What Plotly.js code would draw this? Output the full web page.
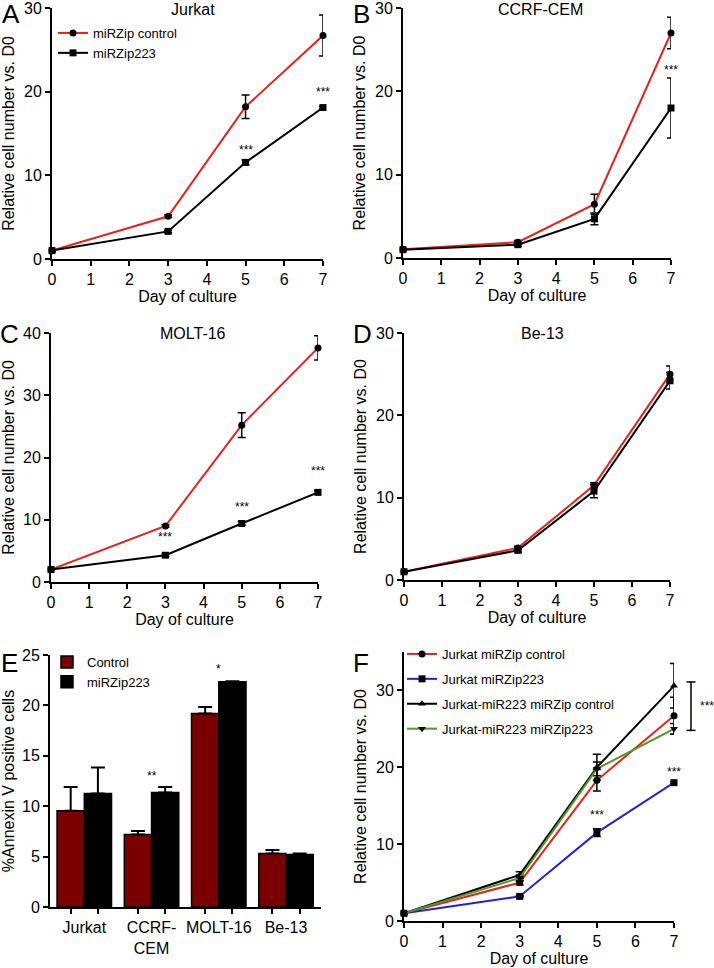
<!DOCTYPE html>
<html><head><meta charset="utf-8">
<script src="https://cdn.plot.ly/plotly-3.0.1.min.js"></script>
<style>html,body{margin:0;padding:0;background:#fff}#chart{width:714px;height:968px}</style>
</head><body><div id="chart"></div>
<script>
// ---------- data ----------
const days = [0, 3, 5, 7];

// A – Jurkat
const jurkatControl = [1.0, 5.1, 18.2, 26.7];
const jurkatControlErr = [0.1, 0.15, 1.4, 2.45];
const jurkatZip = [1.0, 3.3, 11.55, 18.1];
const jurkatZipErr = [0.1, 0.15, 0.3, 0.15];
const starsA = [[5, 13.0, '***'], [7, 20.0, '***']];

// B – CCRF-CEM
const cemControl = [1.05, 1.9, 6.45, 27.0];
const cemControlErr = [0.1, 0.2, 1.2, 1.9];
const cemZip = [1.0, 1.6, 4.7, 18.0];
const cemZipErr = [0.1, 0.2, 0.7, 3.6];
const starsB = [[7, 22.6, '***']];

// C – MOLT-16
const moltControl = [2.0, 9.0, 25.2, 37.6];
const moltControlErr = [0.1, 0.2, 2.0, 1.95];
const moltZip = [2.0, 4.3, 9.4, 14.4];
const moltZipErr = [0.1, 0.2, 0.3, 0.3];
const starsC = [[3, 7.2, '***'], [5, 12.0, '***'], [7, 17.8, '***']];

// D – Be-13
const be13Control = [1.0, 3.9, 11.5, 25.0];
const be13ControlErr = [0.1, 0.2, 0.3, 1.0];
const be13Zip = [1.0, 3.6, 10.8, 24.2];
const be13ZipErr = [0.1, 0.2, 0.8, 1.0];

// E – Annexin V
const cellLines = ['Jurkat', 'CCRF-<br>CEM', 'MOLT-16', 'Be-13'];
const annexinControl = [9.55, 7.2, 19.2, 5.3];
const annexinControlErr = [2.35, 0.35, 0.65, 0.35];
const annexinZip = [11.25, 11.35, 22.35, 5.2];
const annexinZipErr = [2.6, 0.55, 0.05, 0.1];
const starsE = [[1, 13.0, '**'], [2, 23.6, '*']];

// F – Jurkat vs Jurkat-miR223
const fJurkatControl = [1.0, 5.0, 18.3, 26.7];
const fJurkatControlErr = [0.1, 0.3, 1.4, 2.4];
const fJurkatZip = [1.0, 3.2, 11.5, 18.0];
const fJurkatZipErr = [0.1, 0.1, 0.5, 0.15];
const fMirControl = [1.0, 6.0, 20.0, 30.6];
const fMirControlErr = [0.1, 0.4, 1.7, 2.9];
const fMirZip = [1.0, 5.6, 19.8, 25.0];
const fMirZipErr = [0.1, 0.4, 0.9, 0.7];
const starsF = [[5, 13.8, '***'], [7, 19.4, '***']];
const bracketF = [24.8, 31.1];

// ---------- styling helpers ----------
const W = 714, H = 968;
const FONT = 'Liberation Sans, Arial, Helvetica, sans-serif';
const RED = '#e8211b', BLUE = '#1f1fe6', GREEN = '#4e9a26', MAROON = '#7b0000';
const px = v => v / W;
const py = v => 1 - v / H;
const dom = (a, b) => [px(a), px(b)];
const domY = (top, bottom) => [py(bottom), py(top)];

function baseAxis(extra) {
  return Object.assign({
    showline: true, linecolor: '#000', linewidth: 2,
    ticks: 'outside', ticklen: 5, tickwidth: 2, tickcolor: '#000',
    showgrid: false, zeroline: false, ticklabeloverflow: 'allow',
    tickfont: {size: 16, color: '#000', family: FONT},
    fixedrange: true
  }, extra);
}
function dayAxis(domain, anchor) {
  return baseAxis({domain: domain, anchor: anchor, range: [0, 7], tick0: 0, dtick: 1,
    title: {text: 'Day of culture', font: {size: 16, color: '#000'}, standoff: 3}});
}
function valAxis(domain, anchor, range, dtick, title) {
  return baseAxis({domain: domain, anchor: anchor, range: range, tick0: 0, dtick: dtick,
    title: {text: title || 'Relative cell number vs. D0', font: {size: 16, color: '#000'}, standoff: 5}});
}
function line(x, y, err, color, symbol, name, xa, ya, opts) {
  return Object.assign({
    type: 'scatter', mode: 'lines+markers', x: x, y: y, name: name,
    xaxis: xa, yaxis: ya, cliponaxis: false, showlegend: false,
    line: {color: color, width: 2},
    marker: {color: '#000', size: 7, symbol: symbol},
    error_y: {type: 'data', array: err, visible: true, color: '#000', thickness: 1.5, width: 4}
  }, opts || {});
}

const traces = [
  line(days, jurkatControl, jurkatControlErr, RED, 'circle', 'miRZip control', 'x', 'y', {showlegend: true, legend: 'legend'}),
  line(days, jurkatZip, jurkatZipErr, '#000', 'square', 'miRZip223', 'x', 'y', {showlegend: true, legend: 'legend'}),
  line(days, cemControl, cemControlErr, RED, 'circle', 'miRZip control', 'x2', 'y2'),
  line(days, cemZip, cemZipErr, '#000', 'square', 'miRZip223', 'x2', 'y2'),
  line(days, moltControl, moltControlErr, RED, 'circle', 'miRZip control', 'x3', 'y3'),
  line(days, moltZip, moltZipErr, '#000', 'square', 'miRZip223', 'x3', 'y3'),
  line(days, be13Control, be13ControlErr, RED, 'circle', 'miRZip control', 'x4', 'y4'),
  line(days, be13Zip, be13ZipErr, '#000', 'square', 'miRZip223', 'x4', 'y4'),
  line(days, fJurkatControl, fJurkatControlErr, RED, 'circle', 'Jurkat miRZip control', 'x6', 'y6', {showlegend: true, legend: 'legend3', legendgroup: 'f1'}),
  line(days, fJurkatZip, fJurkatZipErr, BLUE, 'square', 'Jurkat miRZip223', 'x6', 'y6', {showlegend: true, legend: 'legend3', legendgroup: 'f2'}),
  line(days, fMirControl, fMirControlErr, '#000', 'triangle-up', 'Jurkat-miR223 miRZip control', 'x6', 'y6', {showlegend: true, legend: 'legend3', legendgroup: 'f3'}),
  line(days, fMirZip, fMirZipErr, GREEN, 'triangle-down', 'Jurkat-miR223 miRZip223', 'x6', 'y6', {showlegend: true, legend: 'legend3', legendgroup: 'f4'})
];

const catIdx = cellLines.map((_, i) => i);
const BARGAP = 0.19;
const barHalf = (1 - BARGAP) / 4;
traces.push({
  type: 'bar', x: catIdx, y: annexinControl, name: 'Control', xaxis: 'x5', yaxis: 'y5',
  marker: {color: MAROON, line: {color: '#000', width: 1.5}},
  error_y: {type: 'data', symmetric: false, array: annexinControlErr, arrayminus: annexinControlErr.map(() => 0), color: '#000', thickness: 2, width: 7},
  legend: 'legend2', showlegend: true
});
traces.push({
  type: 'bar', x: catIdx, y: annexinZip, name: 'miRZip223', xaxis: 'x5', yaxis: 'y5',
  marker: {color: '#000', line: {color: '#000', width: 1.5}},
  error_y: {type: 'data', symmetric: false, array: annexinZipErr, arrayminus: annexinZipErr.map(() => 0), color: '#000', thickness: 2, width: 7},
  legend: 'legend2', showlegend: true
});

// ---------- annotations ----------
const ann = [];
function txt(text, x, y, size, extra) {
  ann.push(Object.assign({text: text, x: x, y: y, xref: 'paper', yref: 'paper', showarrow: false,
    xanchor: 'center', yanchor: 'middle', font: {size: size, color: '#000', family: FONT}}, extra || {}));
}
txt('A', px(11), py(14), 26);
txt('B', px(361), py(14), 26);
txt('C', px(9), py(334), 26);
txt('D', px(362), py(334), 26);
txt('E', px(9), py(663), 26);
txt('F', px(361), py(663), 26);
txt('Jurkat', px(193), py(9), 16);
txt('CCRF-CEM', px(540), py(9), 16);
txt('MOLT-16', px(193), py(333), 16);
txt('Be-13', px(542), py(333), 16);

function stars(list, xa, ya) {
  list.forEach(s => ann.push({text: s[2], x: s[0], y: s[1], xref: xa, yref: ya, showarrow: false,
    xanchor: 'center', yanchor: 'middle', font: {size: 12, color: '#000', family: FONT}}));
}
stars(starsA, 'x', 'y');
stars(starsB, 'x2', 'y2');
stars(starsC, 'x3', 'y3');
stars(starsE, 'x5', 'y5');
stars(starsF, 'x6', 'y6');
ann.push({text: '***', x: px(707), y: (bracketF[0] + bracketF[1]) / 2, xref: 'paper', yref: 'y6', showarrow: false,
  xanchor: 'center', yanchor: 'middle', font: {size: 12, color: '#000', family: FONT}});

const bx = px(691), bc = px(4.5);
const shapes = [
  {type: 'line', xref: 'paper', yref: 'y6', x0: bx, x1: bx, y0: bracketF[0], y1: bracketF[1], line: {color: '#000', width: 1.5}},
  {type: 'line', xref: 'paper', yref: 'y6', x0: bx - bc, x1: bx + bc, y0: bracketF[0], y1: bracketF[0], line: {color: '#000', width: 1.5}},
  {type: 'line', xref: 'paper', yref: 'y6', x0: bx - bc, x1: bx + bc, y0: bracketF[1], y1: bracketF[1], line: {color: '#000', width: 1.5}}
];

const legendBase = {xanchor: 'left', yanchor: 'top', bgcolor: 'rgba(0,0,0,0)', borderwidth: 0,
  font: {size: 13, color: '#000', family: FONT}, itemwidth: 30, tracegroupgap: 0, itemclick: false, itemdoubleclick: false};

const layout = {
  width: W, height: H, margin: {l: 0, r: 0, t: 0, b: 0},
  paper_bgcolor: '#fff', plot_bgcolor: '#fff',
  font: {family: FONT, color: '#000', size: 16},
  barmode: 'group', bargap: BARGAP, bargroupgap: 0,
  xaxis: dayAxis(dom(52, 323), 'y'),
  yaxis: valAxis(domY(8, 259), 'x', [0, 30], 10),
  xaxis2: dayAxis(dom(403, 671), 'y2'),
  yaxis2: valAxis(domY(8, 258), 'x2', [0, 30], 10),
  xaxis3: dayAxis(dom(51, 318), 'y3'),
  yaxis3: valAxis(domY(333, 582), 'x3', [0, 40], 10),
  xaxis4: dayAxis(dom(404, 670), 'y4'),
  yaxis4: valAxis(domY(333, 580), 'x4', [0, 30], 10),
  xaxis5: baseAxis({domain: dom(50, 321), anchor: 'y5', range: [-0.51, 3.52],
    tickmode: 'array', tickvals: catIdx, ticktext: cellLines, tickcolor: 'rgba(0,0,0,0)',
    minor: {tickmode: 'array', tickvals: catIdx.flatMap(i => [i - barHalf, i + barHalf]), ticks: 'outside', ticklen: 5, tickwidth: 2, tickcolor: '#000'}}),
  yaxis5: valAxis(domY(655, 907), 'x5', [0, 25], 5, '%Annexin V positive cells'),
  xaxis6: dayAxis(dom(404, 674), 'y6'),
  yaxis6: valAxis(domY(652, 921), 'x6', [0, 35], 10),
  legend: Object.assign({}, legendBase, {x: px(53), y: py(18)}),
  legend2: Object.assign({}, legendBase, {x: px(47), y: py(647)}),
  legend3: Object.assign({}, legendBase, {x: px(402), y: py(639), tracegroupgap: 5}),
  annotations: ann,
  shapes: shapes,
  showlegend: true
};
layout.yaxis6.tickvals = [0, 10, 20, 30];
layout.yaxis6.tickmode = 'array';

Plotly.newPlot('chart', traces, layout, {displayModeBar: false, staticPlot: true});
</script>
</body></html>
